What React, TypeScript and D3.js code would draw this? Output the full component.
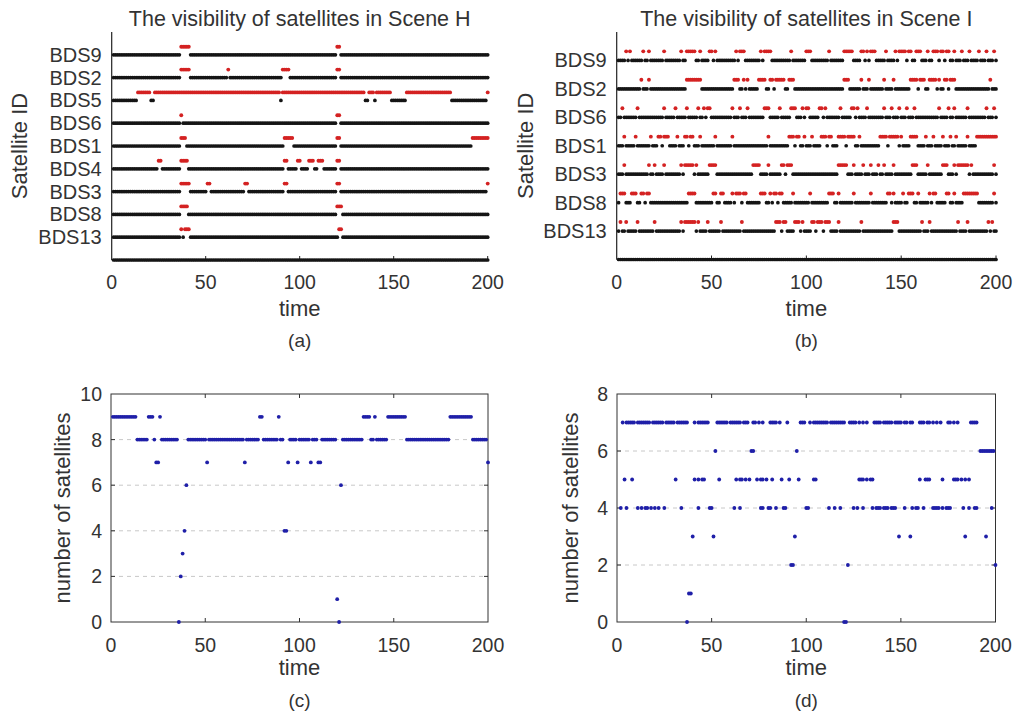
import React, { useRef, useEffect } from "react";
import * as d3 from "d3";

// time axis (epochs 1..200)
const timeTicks = [0, 50, 100, 150, 200];

// Scene H: satellites top -> bottom, and epochs where each one is lost (red)
const sceneHIds = ["BDS9", "BDS2", "BDS5", "BDS6", "BDS1", "BDS4", "BDS3", "BDS8", "BDS13"];
const sceneHOutages = [
  [[37, 41], [120, 121]],
  [[37, 41], [62, 62], [91, 94], [120, 121]],
  [[14, 20], [23, 89], [91, 134], [137, 139], [141, 148], [157, 180], [200, 200]],
  [[37, 37], [120, 121]],
  [[37, 39], [92, 96], [120, 121], [192, 200]],
  [[25, 26], [37, 40], [92, 93], [99, 100], [105, 107], [110, 112], [120, 121]],
  [[37, 41], [51, 52], [71, 72], [92, 93], [120, 121], [200, 200]],
  [[37, 40], [120, 122]],
  [[37, 37], [39, 41], [121, 122]],
];

// Scene I
const sceneIIds = ["BDS9", "BDS2", "BDS6", "BDS1", "BDS3", "BDS8", "BDS13"];
const sceneIOutages = [
  [[5, 5], [7, 7], [14, 14], [17, 17], [25, 25], [34, 34], [37, 41], [44, 44], [49, 50], [52, 52], [63, 63], [65, 67], [76, 76], [78, 81], [92, 92], [100, 102], [112, 112], [120, 124], [129, 130], [132, 132], [134, 136], [142, 142], [147, 147], [149, 152], [154, 155], [158, 160], [164, 164], [167, 169], [171, 172], [174, 175], [178, 178], [182, 182], [186, 186], [191, 191], [195, 195], [199, 199]],
  [[13, 13], [17, 17], [37, 44], [62, 64], [67, 67], [69, 69], [75, 78], [81, 82], [84, 88], [91, 93], [120, 122], [129, 129], [133, 133], [141, 141], [146, 146], [155, 158], [160, 162], [165, 168], [170, 170], [173, 174], [176, 178], [197, 197]],
  [[3, 3], [11, 11], [25, 25], [31, 31], [37, 37], [43, 43], [46, 46], [48, 49], [61, 61], [65, 65], [69, 69], [78, 80], [86, 86], [92, 94], [98, 98], [100, 101], [107, 108], [110, 110], [118, 118], [124, 125], [127, 127], [132, 132], [141, 141], [145, 145], [149, 149], [153, 153], [157, 157], [170, 170], [175, 175], [178, 178], [185, 185], [195, 195], [199, 199]],
  [[4, 4], [10, 10], [18, 18], [22, 23], [25, 27], [32, 32], [36, 37], [39, 40], [44, 44], [52, 52], [61, 61], [80, 80], [91, 93], [95, 96], [99, 99], [103, 103], [108, 110], [112, 113], [117, 120], [122, 125], [128, 128], [139, 142], [144, 148], [150, 150], [155, 158], [163, 163], [167, 167], [172, 172], [176, 176], [179, 179], [185, 185], [190, 200]],
  [[4, 4], [17, 17], [20, 20], [25, 25], [34, 34], [36, 40], [42, 42], [49, 52], [72, 75], [80, 80], [87, 88], [90, 92], [117, 121], [125, 125], [130, 130], [134, 134], [138, 138], [141, 141], [146, 146], [156, 158], [164, 164], [172, 174], [178, 178], [180, 185], [187, 187], [199, 199]],
  [[2, 4], [8, 10], [13, 14], [16, 17], [38, 41], [51, 52], [55, 56], [61, 61], [63, 65], [67, 68], [76, 78], [81, 81], [83, 84], [86, 87], [93, 93], [102, 102], [112, 114], [117, 117], [125, 125], [134, 134], [143, 144], [146, 146], [151, 151], [154, 156], [159, 159], [165, 165], [167, 168], [174, 175], [178, 178], [183, 190], [199, 199]],
  [[2, 2], [5, 5], [11, 11], [20, 20], [34, 34], [36, 41], [43, 43], [48, 48], [55, 55], [66, 66], [84, 86], [88, 89], [94, 96], [98, 98], [103, 104], [106, 108], [110, 112], [117, 117], [129, 129], [146, 148], [161, 161], [165, 165], [180, 180], [185, 185], [196, 196], [198, 198]],
];

// number of visible satellites, as runs [from, to, count]
const sceneHCount = [
  [1, 13, 9], [14, 19, 8], [20, 22, 9], [23, 23, 8], [24, 25, 7], [26, 26, 9], [27, 35, 8],
  [36, 36, 0], [37, 37, 2], [38, 38, 3], [39, 39, 4], [40, 40, 6], [41, 50, 8], [51, 51, 7],
  [52, 70, 8], [71, 71, 7], [72, 78, 8], [79, 80, 9], [81, 88, 8], [89, 89, 9], [90, 91, 8],
  [92, 93, 4], [94, 94, 7], [95, 98, 8], [99, 99, 7], [100, 105, 8], [106, 106, 7], [107, 109, 8],
  [110, 111, 7], [112, 119, 8], [120, 120, 1], [121, 121, 0], [122, 122, 6], [123, 133, 8],
  [134, 137, 9], [138, 139, 8], [140, 140, 9], [141, 146, 8], [147, 156, 9], [157, 179, 8],
  [180, 191, 9], [192, 199, 8], [200, 200, 7],
];

const sceneICount = [
  // 7
  [3, 3, 7], [5, 9, 7], [11, 17, 7], [19, 24, 7], [26, 30, 7], [32, 37, 7], [41, 41, 7], [43, 48, 7],
  [53, 58, 7], [60, 65, 7], [67, 69, 7], [72, 73, 7], [75, 75, 7], [77, 77, 7], [81, 84, 7], [86, 86, 7],
  [90, 90, 7], [97, 99, 7], [102, 102, 7], [104, 111, 7], [113, 120, 7], [123, 126, 7], [128, 128, 7],
  [130, 130, 7], [132, 132, 7], [136, 139, 7], [141, 145, 7], [147, 150, 7], [152, 153, 7], [155, 156, 7],
  [160, 162, 7], [164, 165, 7], [167, 167, 7], [169, 169, 7], [171, 171, 7], [175, 176, 7], [178, 178, 7],
  [180, 180, 7], [187, 190, 7],
  // 6
  [52, 52, 6], [71, 72, 6], [95, 95, 6], [192, 199, 6],
  // 5
  [4, 4, 5], [8, 8, 5], [31, 31, 5], [41, 41, 5], [43, 43, 5], [45, 46, 5], [54, 54, 5], [63, 63, 5],
  [65, 66, 5], [68, 68, 5], [70, 70, 5], [74, 74, 5], [76, 77, 5], [79, 79, 5], [82, 82, 5], [87, 87, 5],
  [91, 91, 5], [96, 96, 5], [104, 105, 5], [128, 130, 5], [132, 132, 5], [134, 135, 5], [160, 160, 5],
  [163, 165, 5], [172, 172, 5], [178, 180, 5], [182, 182, 5], [184, 184, 5], [186, 186, 5],
  // 4
  [2, 2, 4], [5, 5, 4], [11, 11, 4], [13, 13, 4], [15, 16, 4], [18, 18, 4], [20, 20, 4], [22, 22, 4],
  [25, 25, 4], [34, 34, 4], [43, 43, 4], [49, 50, 4], [62, 62, 4], [65, 65, 4], [76, 77, 4], [80, 81, 4],
  [84, 84, 4], [88, 89, 4], [100, 101, 4], [112, 112, 4], [115, 115, 4], [118, 118, 4], [125, 125, 4],
  [127, 127, 4], [130, 130, 4], [135, 135, 4], [137, 139, 4], [141, 143, 4], [145, 147, 4], [152, 152, 4],
  [156, 156, 4], [158, 159, 4], [162, 162, 4], [167, 170, 4], [172, 172, 4], [174, 176, 4], [183, 183, 4],
  [186, 186, 4], [189, 190, 4], [198, 198, 4],
  // 3, 2, 1, 0
  [40, 40, 3], [51, 51, 3], [94, 94, 3], [149, 149, 3], [155, 155, 3], [184, 184, 3], [195, 195, 3],
  [92, 93, 2], [122, 122, 2], [200, 200, 2],
  [38, 39, 1],
  [37, 37, 0], [120, 121, 0],
];

const FONT = "'Liberation Sans', Arial, Helvetica, sans-serif";
const TXT = "#333";
const RED = "#d42222";
const BLK = "#151515";
const BLUE = "#1f1fa8";

const text = (g, x, y, s, size, anchor = "middle") =>
  g.append("text")
    .attr("x", x)
    .attr("y", y)
    .attr("text-anchor", anchor)
    .attr("font-family", FONT)
    .attr("font-size", size)
    .attr("fill", TXT)
    .text(s);

function drawVisibility(svg, p) {
  const x = d3.scaleLinear().domain([0, 200]).range([p.left, p.right]);
  const y = d3.scaleLinear().domain([0, p.yMax]).range([p.bottom, p.top]);
  const g = svg.append("g");
  const n = p.ids.length;
  const epochs = d3.range(1, 201);

  const black = [];
  const red = [];
  p.ids.forEach((id, i) => {
    const row = n - i;
    const lost = new Set();
    p.outages[i].forEach(([a, b]) => d3.range(a, b + 1).forEach((t) => lost.add(t)));
    epochs.forEach((t) => (lost.has(t) ? red.push([t, row + p.lift]) : black.push([t, row])));
  });
  // baseline row
  epochs.forEach((t) => black.push([t, 0]));

  // axes
  g.append("line").attr("x1", p.left).attr("x2", p.left).attr("y1", p.top).attr("y2", p.bottom)
    .attr("stroke", "#222").attr("stroke-width", 1.2);
  g.append("line").attr("x1", p.left).attr("x2", p.right).attr("y1", p.bottom).attr("y2", p.bottom)
    .attr("stroke", "#222").attr("stroke-width", 1.2);
  timeTicks.slice(1).forEach((t) => {
    g.append("line").attr("x1", x(t)).attr("x2", x(t)).attr("y1", p.bottom).attr("y2", p.bottom - 4)
      .attr("stroke", "#222");
  });

  g.append("g").selectAll("circle").data(black).join("circle")
    .attr("cx", (d) => x(d[0])).attr("cy", (d) => y(d[1])).attr("r", 1.85).attr("fill", BLK);
  g.append("g").selectAll("circle").data(red).join("circle")
    .attr("cx", (d) => x(d[0])).attr("cy", (d) => y(d[1])).attr("r", 1.95).attr("fill", RED);

  p.ids.forEach((id, i) => text(g, p.left - 10, y(n - i) + 7, id, 20, "end"));
  timeTicks.forEach((t) => text(g, x(t), p.bottom + 29, t, 19.5));

  const cx = (p.left + p.right) / 2;
  text(g, cx, 26, p.title, 21.5);
  text(g, cx, 316, "time", 22);
  text(g, cx, 347, p.caption, 19);
  text(g, 0, 0, "Satellite ID", 22)
    .attr("transform", `translate(${p.yLabelX},${(p.top + p.bottom) / 2}) rotate(-90)`);
}

function drawCount(svg, p) {
  const x = d3.scaleLinear().domain([0, 200]).range([p.left, p.right]);
  const y = d3.scaleLinear().domain([0, p.yMax]).range([p.bottom, p.top]);
  const g = svg.append("g");
  const yTicks = d3.range(0, p.yMax + 1, 2);

  // dashed grid
  yTicks.filter((v) => v > 0 && v < p.yMax).forEach((v) => {
    g.append("line").attr("x1", p.left).attr("x2", p.right).attr("y1", y(v)).attr("y2", y(v))
      .attr("stroke", "#c8c8c8").attr("stroke-dasharray", "4,4");
  });

  g.append("rect").attr("x", p.left).attr("y", p.top)
    .attr("width", p.right - p.left).attr("height", p.bottom - p.top)
    .attr("fill", "none").attr("stroke", "#333").attr("stroke-width", 1);

  timeTicks.slice(1, -1).forEach((t) => {
    g.append("line").attr("x1", x(t)).attr("x2", x(t)).attr("y1", p.bottom).attr("y2", p.bottom - 4).attr("stroke", "#333");
    g.append("line").attr("x1", x(t)).attr("x2", x(t)).attr("y1", p.top).attr("y2", p.top + 4).attr("stroke", "#333");
  });
  yTicks.slice(1, -1).forEach((v) => {
    g.append("line").attr("x1", p.left).attr("x2", p.left + 4).attr("y1", y(v)).attr("y2", y(v)).attr("stroke", "#333");
    g.append("line").attr("x1", p.right).attr("x2", p.right - 4).attr("y1", y(v)).attr("y2", y(v)).attr("stroke", "#333");
  });

  const pts = [];
  p.runs.forEach(([a, b, v]) => d3.range(a, b + 1).forEach((t) => pts.push([t, v])));
  g.append("g").selectAll("circle").data(pts).join("circle")
    .attr("cx", (d) => x(d[0])).attr("cy", (d) => y(d[1])).attr("r", 1.9).attr("fill", BLUE);

  yTicks.forEach((v) => text(g, p.left - 9, y(v) + 7, v, 19.5, "end"));
  timeTicks.forEach((t) => text(g, x(t), p.bottom + 30, t, 19.5));

  const cx = (p.left + p.right) / 2;
  text(g, cx, 675, "time", 22);
  text(g, cx, 707, p.caption, 19);
  text(g, 0, 0, "number of satellites", 22)
    .attr("transform", `translate(${p.yLabelX},${(p.top + p.bottom) / 2}) rotate(-90)`);
}

const App = () => {
  const svgRef = useRef(null);

  useEffect(() => {
    const svg = d3.select(svgRef.current);
    svg.selectAll("*").remove();

    drawVisibility(svg, {
      left: 111.7, right: 487.7, top: 32, bottom: 260, yMax: 10, lift: 0.35,
      ids: sceneHIds, outages: sceneHOutages,
      title: "The visibility of satellites in Scene H", caption: "(a)", yLabelX: 27,
    });
    drawVisibility(svg, {
      left: 616.7, right: 996, top: 32, bottom: 259.5, yMax: 8, lift: 0.32,
      ids: sceneIIds, outages: sceneIOutages,
      title: "The visibility of satellites in Scene I", caption: "(b)", yLabelX: 533,
    });
    drawCount(svg, {
      left: 111, right: 488, top: 394, bottom: 622, yMax: 10,
      runs: sceneHCount, caption: "(c)", yLabelX: 70,
    });
    drawCount(svg, {
      left: 617, right: 995.5, top: 394, bottom: 622, yMax: 8,
      runs: sceneICount, caption: "(d)", yLabelX: 578,
    });
  }, []);

  return (
    <svg
      ref={svgRef}
      width={1014}
      height={720}
      style={{ position: "absolute", left: 0, top: 0, background: "#fff" }}
    />
  );
};

export default App;
